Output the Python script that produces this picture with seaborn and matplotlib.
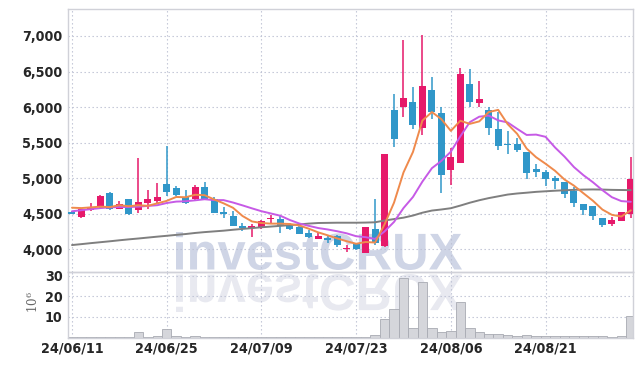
import numpy as np
import pandas as pd
import matplotlib
matplotlib.use("Agg")
import matplotlib.pyplot as plt
import seaborn as sns
from matplotlib.textpath import TextPath
from matplotlib.patches import PathPatch
from matplotlib.font_manager import FontProperties
from matplotlib.transforms import Affine2D
from matplotlib.ticker import FuncFormatter

# ---------------- data ----------------
tick_pos = [0, 10, 20, 30, 40, 50]
tick_dates = ['24/06/11', '24/06/25', '24/07/09', '24/07/23', '24/08/06', '24/08/21']

opens = [4530, 4450, 4550, 4590, 4795, 4570, 4705, 4555, 4655, 4685,
         4920, 4865, 4740, 4705, 4880, 4705, 4520, 4470, 4325, 4300,
         4295, 4420, 4430, 4330, 4320, 4235, 4145, 4155, 4185, 4000,
         4075, 3955, 4280, 4040, 5955, 5995, 6075, 5710, 6240, 5920,
         5115, 5220, 6325, 6055, 5960, 5690, 5480, 5480, 5370, 5130,
         5085, 5005, 4945, 4825, 4635, 4610, 4435, 4355, 4400, 4495]
highs = [4540, 4570, 4650, 4760, 4800, 4680, 4710, 5280, 4835, 4930,
         5450, 4890, 4835, 4905, 4945, 4740, 4590, 4545, 4375, 4360,
         4410, 4485, 4465, 4370, 4325, 4270, 4245, 4200, 4200, 4060,
         4085, 4315, 4705, 5345, 6185, 6940, 6285, 7010, 6420, 6000,
         5430, 6545, 6530, 6370, 6000, 5930, 5670, 5560, 5375, 5195,
         5115, 5030, 4950, 4870, 4640, 4615, 4440, 4455, 4530, 5295]
lows = [4490, 4445, 4540, 4585, 4550, 4560, 4480, 4515, 4570, 4650,
        4750, 4750, 4635, 4700, 4690, 4510, 4440, 4325, 4255, 4175,
        4290, 4370, 4225, 4270, 4210, 4155, 4140, 4095, 4030, 3965,
        3995, 3950, 4060, 4035, 5440, 5855, 5690, 5605, 5830, 4795,
        4910, 5215, 6005, 6005, 5610, 5390, 5340, 5370, 4985, 5020,
        4890, 4845, 4720, 4600, 4480, 4410, 4315, 4330, 4395, 4435]
closes = [4500, 4565, 4595, 4750, 4560, 4635, 4490, 4665, 4705, 4735,
          4810, 4765, 4645, 4880, 4705, 4515, 4490, 4330, 4305, 4318,
          4405, 4445, 4330, 4280, 4215, 4180, 4185, 4125, 4060, 4020,
          4000, 4310, 4085, 5340, 5545, 6125, 5750, 6295, 5935, 5045,
          5300, 6465, 6075, 6110, 5700, 5455, 5460, 5395, 5075, 5090,
          4995, 4965, 4780, 4645, 4555, 4470, 4345, 4410, 4525, 4990]

ma_short = [4585, 4580, 4590, 4600, 4594, 4621, 4606, 4620, 4611, 4646,
            4681, 4736, 4732, 4767, 4761, 4702, 4647, 4584, 4469, 4392,
            4370, 4361, 4361, 4356, 4335, 4290, 4238, 4197, 4153, 4114,
            4078, 4103, 4095, 4351, 4656, 5081, 5369, 5811, 5930, 5830,
            5665, 5808, 5764, 5799, 5930, 5961, 5760, 5624, 5417, 5295,
            5203, 5104, 4981, 4895, 4788, 4683, 4559, 4485, 4461, 4548]
ma_mid = [4535, 4550, 4565, 4580, 4590, 4595, 4595, 4600, 4610, 4620,
          4651, 4671, 4676, 4689, 4704, 4692, 4692, 4658, 4618, 4576,
          4536, 4504, 4472, 4412, 4363, 4330, 4299, 4279, 4254, 4225,
          4184, 4171, 4146, 4252, 4385, 4580, 4736, 4953, 5141, 5243,
          5373, 5589, 5788, 5865, 5880, 5813, 5784, 5694, 5608, 5613,
          5582, 5432, 5303, 5156, 5042, 4943, 4832, 4733, 4678, 4668]
ma_long = [4060, 4073, 4087, 4100, 4113, 4127, 4140, 4152, 4165, 4178,
           4190, 4203, 4215, 4230, 4242, 4252, 4262, 4275, 4287, 4298,
           4310, 4320, 4330, 4340, 4350, 4362, 4370, 4372, 4374, 4374,
           4374, 4376, 4380, 4405, 4425, 4445, 4475, 4515, 4545, 4560,
           4578, 4615, 4655, 4690, 4720, 4745, 4770, 4785, 4796, 4808,
           4816, 4824, 4830, 4836, 4840, 4842, 4840, 4836, 4834, 4832]
volume = [0.2, 0.2, 0.2, 0.2, 0.2, 0.2, 0.3, 2.7, 0.3, 0.9,
          4.3, 0.9, 0.3, 0.9, 0.3, 0.2, 0.2, 0.2, 0.2, 0.2,
          0.2, 0.2, 0.2, 0.2, 0.2, 0.2, 0.2, 0.2, 0.2, 0.2,
          0.2, 0.2, 1.2, 9.0, 13.9, 28.9, 4.7, 27.0, 4.7, 2.9,
          3.3, 17.3, 4.7, 2.5, 1.9, 1.9, 1.2, 0.9, 1.4, 0.8,
          0.8, 0.7, 0.8, 0.7, 0.7, 0.7, 0.6, 0.3, 0.9, 10.6]

# ---------------- style ----------------
sns.set_theme(style="white")
plt.rcParams['font.family'] = ['DejaVu Sans']

UP = '#e6196a'
DOWN = '#3097c9'
W, H = 642, 366

fig = plt.figure(figsize=(W / 100, H / 100), dpi=100)
fig.patch.set_facecolor('white')

L, R = 68.3, 632.7
ax = fig.add_axes([L / W, 1 - 272 / H, (R - L) / W, (272 - 9.3) / H])
axv = fig.add_axes([L / W, 1 - 337.5 / H, (R - L) / W, (337.5 - 272) / H], sharex=ax)
for a in (ax, axv):
    a.set_facecolor('none')

# ---------------- watermark ----------------
fp = FontProperties(family='Liberation Sans', weight='bold')
tp = TextPath((0, 0), 'investCRUX', size=100, prop=fp)
bb = tp.get_extents()
x0, x1 = 176, 462
ytop, ybase = 232, 270
sx = (x1 - x0) / bb.width
sy = (ybase - ytop) / bb.height
tr = Affine2D().translate(-bb.x0, -bb.y0).scale(sx, sy).translate(x0, H - ybase)
fig.add_artist(PathPatch(tp, transform=tr, facecolor='#cfd5e6', edgecolor='none', zorder=-2))
tr2 = Affine2D().translate(-bb.x0, -bb.y0).scale(sx, -sy).translate(x0, H - 274)
fig.add_artist(PathPatch(tp, transform=tr2, facecolor='#e8e9f0', edgecolor='none', zorder=-2))

# ---------------- price panel ----------------
df = pd.DataFrame({'idx': np.arange(len(closes)), 'open': opens, 'high': highs,
                   'low': lows, 'close': closes, 'ma5': ma_short, 'ma10': ma_mid,
                   'mal': ma_long, 'vol': volume})
up = df['close'] >= df['open']
cols = np.where(up, UP, DOWN)
body_bot = np.minimum(df['open'], df['close'])
body_h = np.maximum((df['close'] - df['open']).abs(), 22)

ax.vlines(df['idx'], df['low'], df['high'], colors=cols, linewidth=1.1, zorder=3)
ax.bar(df['idx'], body_h, bottom=body_bot, width=0.74, color=cols, linewidth=0, zorder=3)

sns.lineplot(data=df, x='idx', y='mal', ax=ax, color='#7f7f7f', linewidth=1.4, zorder=4)
sns.lineplot(data=df, x='idx', y='ma10', ax=ax, color='#c65ae6', linewidth=1.4, zorder=4)
sns.lineplot(data=df, x='idx', y='ma5', ax=ax, color='#ef8a4c', linewidth=1.4, zorder=5)

ax.set_ylim(3681, 7375)
ax.set_yticks([4000, 4500, 5000, 5500, 6000, 6500, 7000])
ax.yaxis.set_major_formatter(FuncFormatter(lambda v, p: f'{int(v):,}'))
ax.set_xlabel('')
ax.set_ylabel('')

# ---------------- volume panel ----------------
sns.barplot(data=df, x='idx', y='vol', ax=axv, native_scale=True, width=1.0,
            color='#d5d6db', edgecolor='#a8aab2', linewidth=0.6, saturation=1,
            errorbar=None, zorder=2)
axv.set_ylim(0, 31.8)
axv.set_yticks([10, 20, 30])
axv.set_xlabel('')
axv.set_ylabel('')

axv.set_xlim(-0.39, 59.2)
axv.set_xticks(tick_pos)
axv.set_xticklabels(tick_dates)

grid_kw = dict(color='#bcc0d3', linewidth=0.8, linestyle=(0, (1.2, 2.4)))
for a in (ax, axv):
    a.grid(True, **grid_kw)
    a.set_axisbelow(True)
    for s in a.spines.values():
        s.set_color('#d0d1d8')
        s.set_linewidth(1.0)
        s.set_visible(True)
    a.tick_params(axis='both', length=0, labelcolor='#262626', pad=4)
    for lab in a.get_yticklabels() + a.get_xticklabels():
        lab.set_fontweight('bold')
        lab.set_fontstretch('condensed')
        lab.set_fontsize(10.3)

ax.tick_params(labelbottom=False)
axv.tick_params(axis='x', pad=3)

fig.text(33 / W, 1 - 301.7 / H, r'$10^6$', rotation=90, ha='center', va='center',
         fontsize=8.5, color='#666666', math_fontfamily='dejavuserif')

fig.savefig('out.png', dpi=100, facecolor='white')
